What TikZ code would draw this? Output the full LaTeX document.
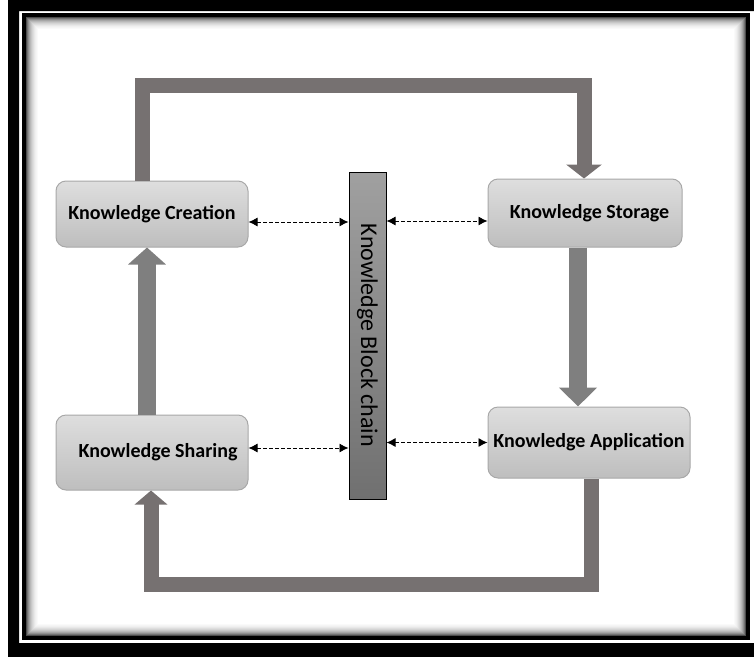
\documentclass[tikz,border=0pt]{standalone}
\usepackage{fontspec}
\setmainfont{Carlito}
\usepackage{graphicx}
\usetikzlibrary{arrows.meta}

\definecolor{cyclegray}{RGB}{118,113,113}
\definecolor{flowgray}{RGB}{127,127,127}
\definecolor{boxtop}{RGB}{222,222,222}
\definecolor{boxbottom}{RGB}{190,190,190}
\definecolor{boxline}{RGB}{168,168,168}
\definecolor{chaintop}{RGB}{160,160,160}
\definecolor{chainbottom}{RGB}{112,112,112}

\tikzset{
  kbox/.style={rectangle, rounded corners=10pt, draw=boxline, line width=1pt,
    top color=boxtop, bottom color=boxbottom, inner sep=0pt,
    font=\fontsize{20}{24}\selectfont\bfseries},
  chainbar/.style={rectangle, draw=black, line width=1pt,
    top color=chaintop, bottom color=chainbottom, inner sep=0pt,
    font=\fontsize{24}{28}\selectfont},
  cyclearrow/.style={draw=cyclegray, line width=15pt, line join=miter},
  flowarrow/.style={draw=flowgray, line width=18pt},
  linkarrow/.style={draw=black, line width=0.9pt, dash pattern=on 3.5pt off 2.5pt,
    {Latex[length=9pt,width=9pt]}-{Latex[length=9pt,width=9pt]}}
}

\begin{document}
\begin{tikzpicture}[x=1pt,y=-1pt]

  \useasboundingbox (0,0) rectangle (754,656);
  \clip (0,0) rectangle (754,656);

  \fill[black, even odd rule] (8,0) rectangle (770,670) (19,11) rectangle (754,643);
  \draw[black, line width=3.5pt] (24,15) rectangle (748,638);
  \foreach \d/\c in {1/70,2/55,3/44,4/35,5/28,6/22,7/17,8/13,9/9,10/6,11/4,12/2}
    \draw[black!\c, line width=1.05pt] ({25.5+\d},{16.5+\d}) rectangle ({746.5-\d},{636.5-\d});

  \begin{scope}[every node/.style={kbox}]
    \node[minimum width=192pt, minimum height=66pt] (create) at (152,214)   {Knowledge Creation};
    \node[minimum width=194pt, minimum height=68pt] (store)  at (585,213)   {\hspace*{9pt}Knowledge Storage};
    \node[minimum width=192pt, minimum height=75pt] (share)  at (152,452.5) {\hspace*{12pt}Knowledge Sharing};
    \node[minimum width=202pt, minimum height=71pt] (apply)  at (589,442.5) {Knowledge Application};
  \end{scope}

  \node[chainbar, minimum width=37pt, minimum height=327pt] (chain) at (367.5,335.5)
    {\rotatebox{-90}{Knowledge Block chain}};

  \draw[cyclearrow, -{Triangle[length=14pt,width=35pt]}]
    (create.north -| 142,0) -- (142,85) -- (584,85) -- (store.north -| 584,0);
  \draw[cyclearrow, -{Triangle[length=14pt,width=32pt]}]
    (apply.south -| 591,0) -- (591,584) -- (151,584) -- (share.south -| 151,0);

  \draw[flowarrow, -{Triangle[length=19pt,width=37pt]}] (store.south -| 578,0) -- (apply.north -| 578,0);
  \draw[flowarrow, -{Triangle[length=17pt,width=37pt]}] (share.north -| 147,0) -- (create.south -| 147,0);

  \path[linkarrow] ([yshift=-8pt]create.east) -- ([yshift=-8pt]create.east -| chain.west);
  \path[linkarrow] ([yshift=-8pt]store.west -| chain.east) -- ([yshift=-8pt]store.west);
  \path[linkarrow] ([yshift=4.5pt]share.east) -- ([yshift=4.5pt]share.east -| chain.west);
  \path[linkarrow] (apply.west -| chain.east) -- (apply.west);

\end{tikzpicture}
\end{document}
